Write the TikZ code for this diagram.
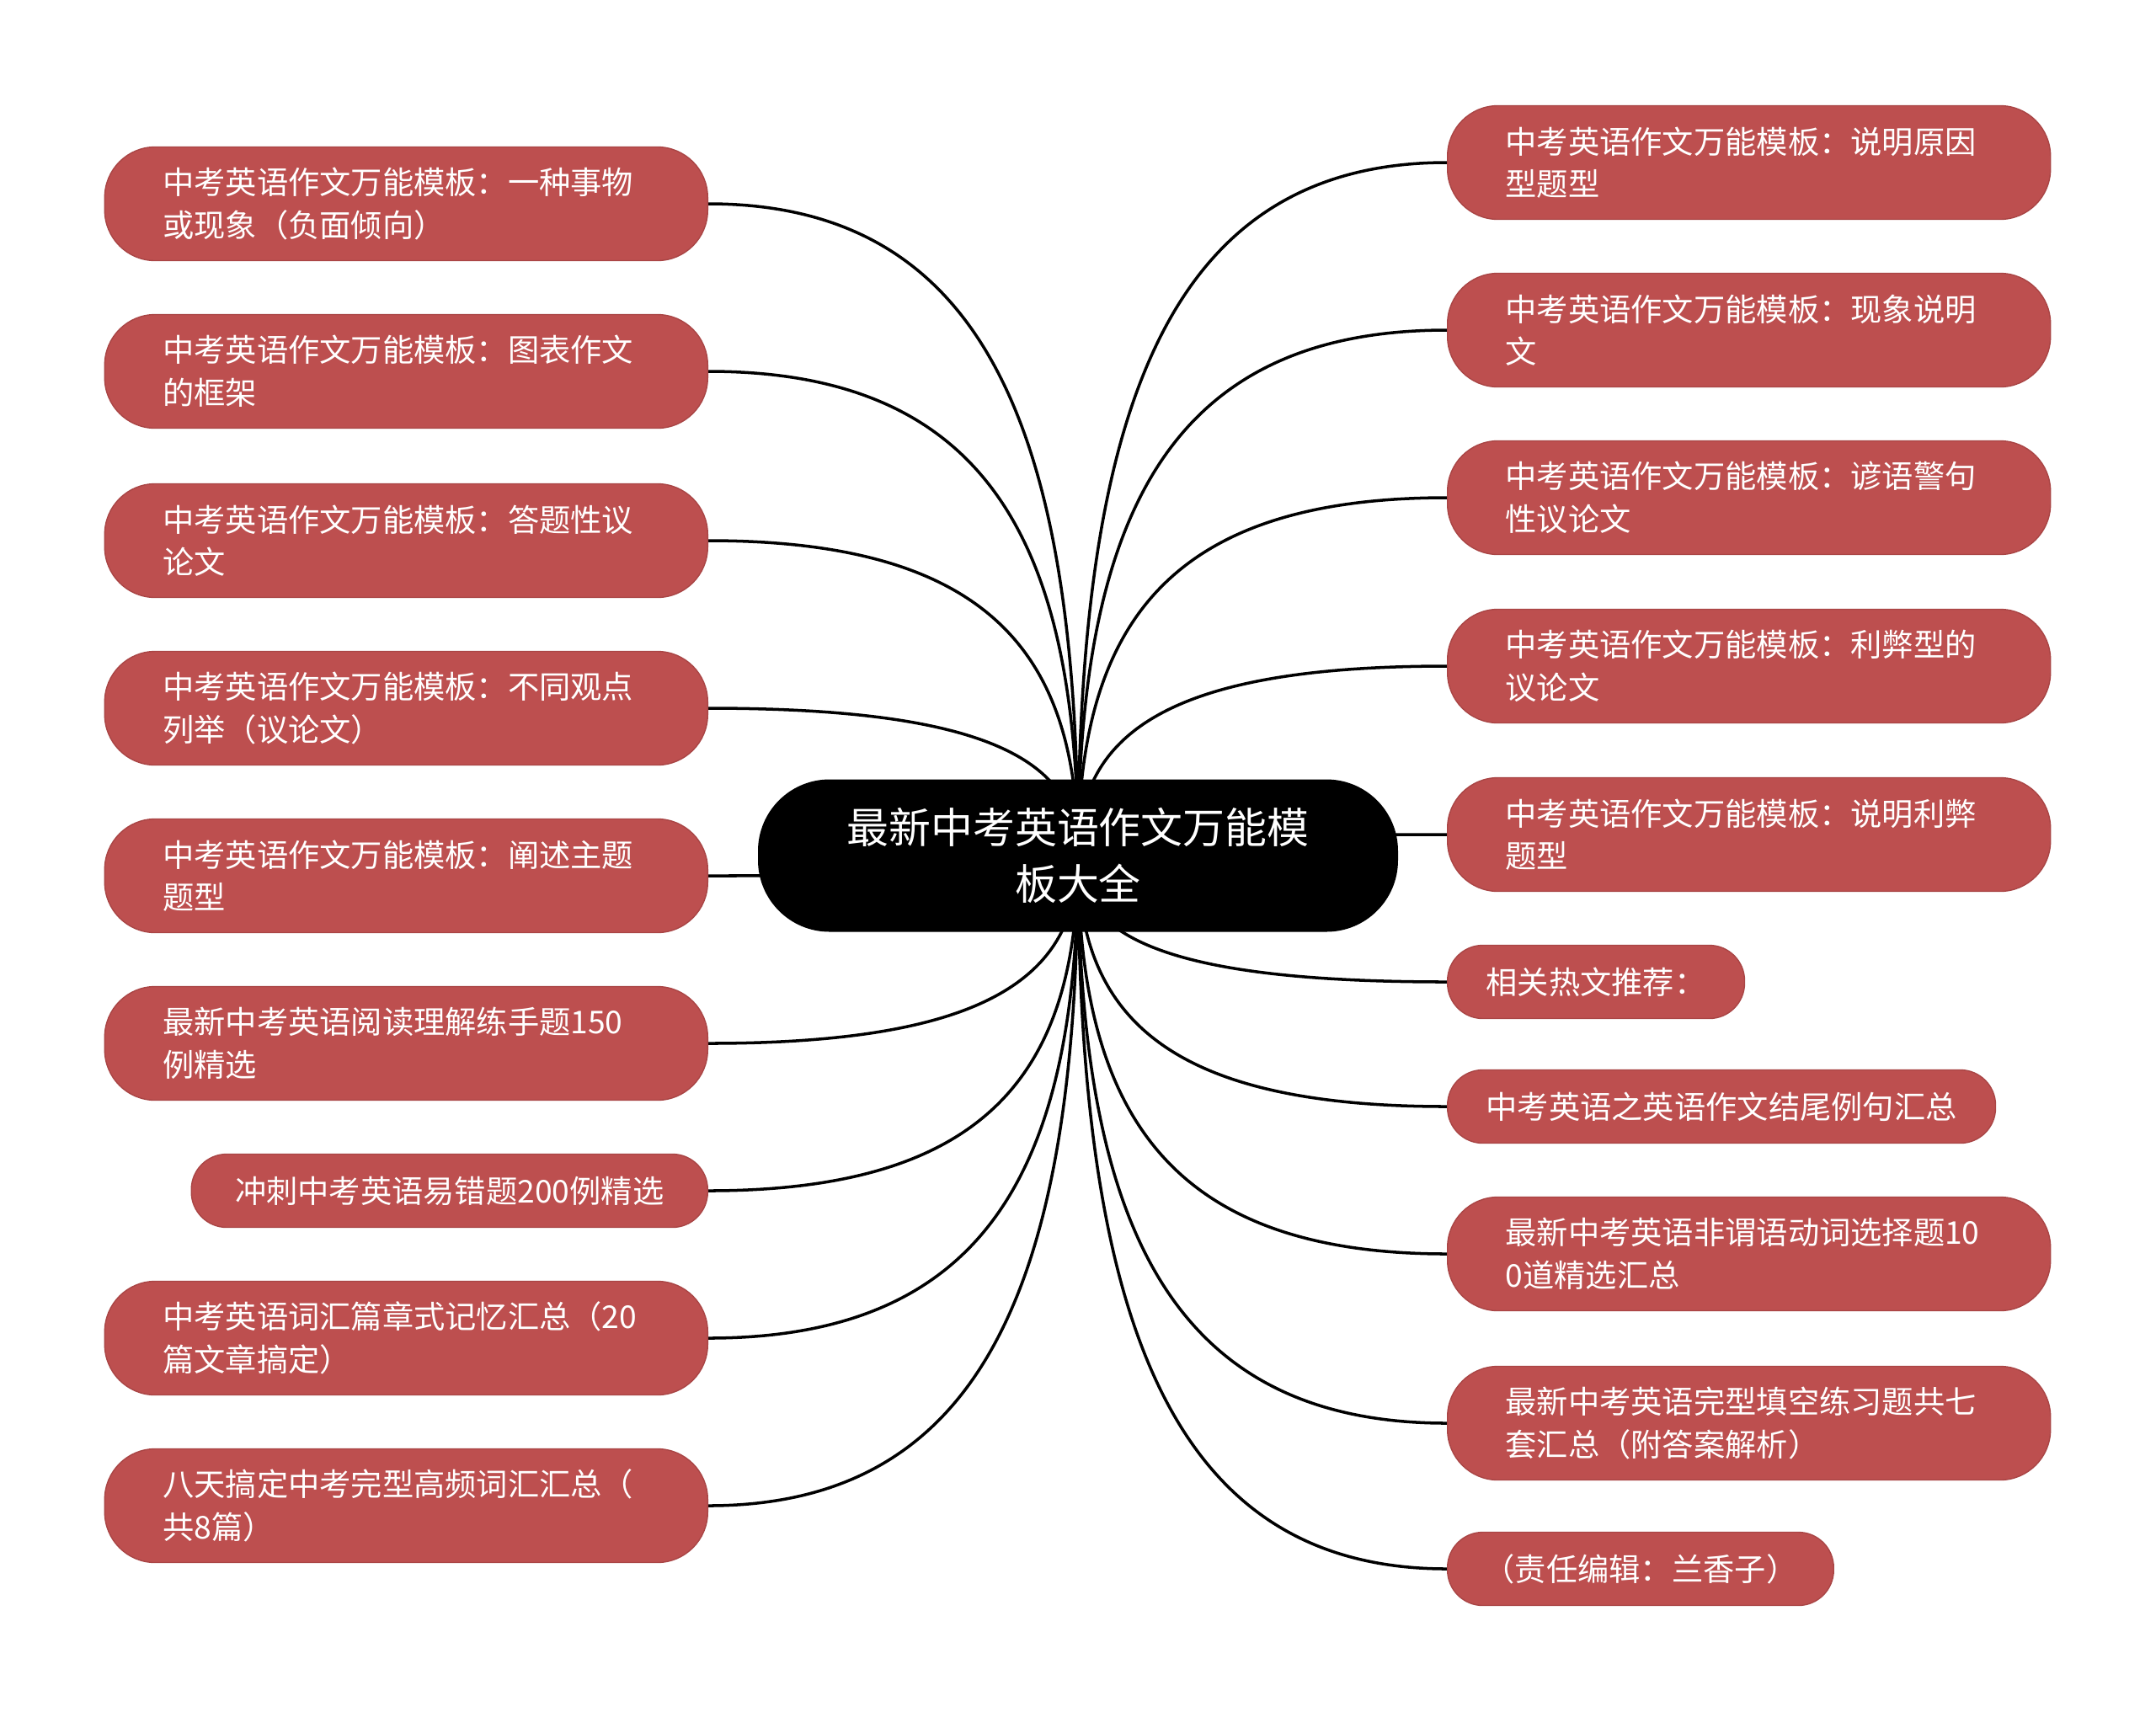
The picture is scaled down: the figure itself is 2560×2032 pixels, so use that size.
\documentclass[tikz,border=0pt]{standalone}
\usepackage{fontspec}
\setmainfont{Noto Sans CJK SC}
\usetikzlibrary{calc,backgrounds}
\definecolor{brick}{HTML}{BD4F4F}
\definecolor{brickline}{HTML}{A94545}

\begin{document}
\begin{tikzpicture}[
  x=0.1mm,y=-0.1mm,
  topic/.style={draw=brickline,fill=brick,text=white,rounded corners=6mm,
                minimum height=13.5mm,inner xsep=6.9mm,text width=57.8mm,align=left,
                font=\fontsize{10.6}{14.4}\selectfont},
  leaf/.style={draw=brickline,fill=brick,text=white,rounded corners=4.2mm,
               minimum height=8.7mm,inner xsep=4.6mm,
               font=\fontsize{10.6}{14.4}\selectfont},
  central/.style={fill=black,text=white,rounded corners=8.5mm,minimum width=76mm,
                  minimum height=18.1mm,align=center,
                  font=\fontsize{14.2}{19}\selectfont},
  branch/.style={line width=1pt}]
\useasboundingbox (0,0) rectangle (2560,2032);
\node[central] (hub) at (1280,1016) {最新中考英语作文万能模\\板大全};
% left side
\node[topic,anchor=east] (l1) at (841,242) {中考英语作文万能模板：一种事物\\或现象（负面倾向）};
\node[topic,anchor=east] (l2) at (841,441) {中考英语作文万能模板：图表作文\\的框架};
\node[topic,anchor=east] (l3) at (841,642) {中考英语作文万能模板：答题性议\\论文};
\node[topic,anchor=east] (l4) at (841,841) {中考英语作文万能模板：不同观点\\列举（议论文）};
\node[topic,anchor=east] (l5) at (841,1040) {中考英语作文万能模板：阐述主题\\题型};
\node[topic,anchor=east] (l6) at (841,1239) {最新中考英语阅读理解练手题150\\例精选};
\node[leaf,anchor=east,inner xsep=5.2mm] (l7) at (841,1414) {冲刺中考英语易错题200例精选};
\node[topic,anchor=east] (l8) at (841,1589) {中考英语词汇篇章式记忆汇总（20\\篇文章搞定）};
\node[topic,anchor=east] (l9) at (841,1788) {八天搞定中考完型高频词汇汇总（\\共8篇）};
% right side
\node[topic,anchor=west] (r1) at (1718,193) {中考英语作文万能模板：说明原因\\型题型};
\node[topic,anchor=west] (r2) at (1718,392) {中考英语作文万能模板：现象说明\\文};
\node[topic,anchor=west] (r3) at (1718,591) {中考英语作文万能模板：谚语警句\\性议论文};
\node[topic,anchor=west] (r4) at (1718,791) {中考英语作文万能模板：利弊型的\\议论文};
\node[topic,anchor=west] (r5) at (1718,991) {中考英语作文万能模板：说明利弊\\题型};
\node[leaf,anchor=west] (r6) at (1718,1166) {相关热文推荐：};
\node[leaf,anchor=west] (r7) at (1718,1314) {中考英语之英语作文结尾例句汇总};
\node[topic,anchor=west] (r8) at (1718,1489) {最新中考英语非谓语动词选择题10\\0道精选汇总};
\node[topic,anchor=west] (r9) at (1718,1690) {最新中考英语完型填空练习题共七\\套汇总（附答案解析）};
\node[leaf,anchor=west,inner xsep=4.3mm] (r10) at (1718,1863) {（责任编辑：兰香子）};
% connectors
\begin{scope}[on background layer]
\foreach \n in {l1,l2,l3,l4,l5,l6,l7,l8,l9} {
  \coordinate (k) at (hub.center|-\n.east);
  \draw[branch] (hub.center) .. controls ($(hub.center)!0.65!(k)$)
    and ($(\n.east)!0.75!(k)$) .. (\n.east);
}
\foreach \n in {r1,r2,r3,r4,r5,r6,r7,r8,r9,r10} {
  \coordinate (k) at (hub.center|-\n.west);
  \draw[branch] (hub.center) .. controls ($(hub.center)!0.65!(k)$)
    and ($(\n.west)!0.75!(k)$) .. (\n.west);
}
\end{scope}
\end{tikzpicture}
\end{document}
